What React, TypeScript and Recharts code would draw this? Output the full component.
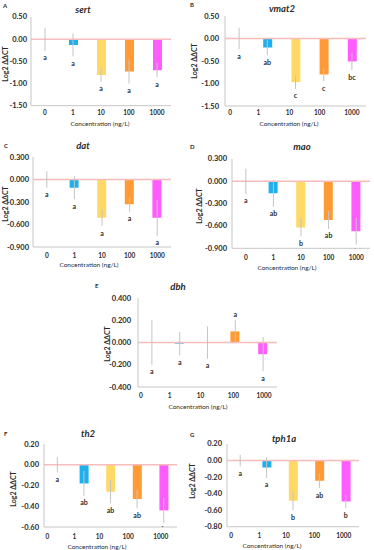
import React from "react";
import { ComposedChart, Bar, Cell, XAxis, YAxis, ReferenceLine, ErrorBar, Line } from "recharts";

const concentrations = ["0", "1", "10", "100", "1000"];
const barColors = ["#ffffff", "#1cb0ee", "#ffd966", "#ff9a35", "#ff5cff"];

// A - sert
const sertMean = [0, -0.13, -0.81, -0.73, -0.7];
const sertErr = [0.26, 0.26, 0.15, 0.27, 0.16];
const sertLetters = ["a", "a", "a", "a", "a"];
const sertTicks = [0.5, 0, -0.5, -1, -1.5];

// B - vmat2
const vmat2Mean = [0, -0.2, -0.97, -0.8, -0.51];
const vmat2Err = [0.24, 0.17, 0.15, 0.15, 0.19];
const vmat2Letters = ["a", "ab", "c", "c", "bc"];
const vmat2Ticks = [0.5, 0, -0.5, -1, -1.5];

// C - dat
const datMean = [0, -0.11, -0.51, -0.33, -0.51];
const datErr = [0.11, 0.155, 0.11, 0.1, 0.24];
const datLetters = ["a", "a", "a", "a", "a"];
const datTicks = [0.3, 0, -0.3, -0.6, -0.9];

// D - mao
const maoMean = [0, -0.16, -0.62, -0.52, -0.67];
const maoErr = [0.17, 0.18, 0.12, 0.12, 0.18];
const maoLetters = ["a", "ab", "b", "ab", "b"];
const maoTicks = [0.3, 0, -0.3, -0.6, -0.9];

// E - dbh
const dbhMean = [0, -0.01, 0, 0.1, -0.105];
const dbhErr = [0.2, 0.105, 0.145, 0.1, 0.153];
const dbhLetters = ["a", "a", "a", "a", "a"];
const dbhTicks = [0.4, 0.2, 0, -0.2, -0.4];

// F - th2
const th2Mean = [0, -0.18, -0.26, -0.33, -0.44];
const th2Err = [0.073, 0.12, 0.11, 0.09, 0.12];
const th2Letters = ["a", "ab", "ab", "ab", "b"];
const th2Ticks = [0.2, 0, -0.2, -0.4, -0.6];

// G - tph1a
const tph1aMean = [0, -0.085, -0.485, -0.245, -0.495];
const tph1aErr = [0.07, 0.125, 0.115, 0.09, 0.08];
const tph1aLetters = ["a", "a", "b", "ab", "b"];
const tph1aTicks = [0.2, 0, -0.2, -0.4, -0.6, -0.8];

const FONT = "Lato, 'Open Sans', sans-serif";
const AXIS_GREY = "#c6c6c6";
const ERR_GREY = "#c4c4c4";
const ZERO_PINK = "#f8bcbc";
const TEXT = "#2b2b2b";

const PAD_L = 40;
const PAD_T = 8;
const PAD_R = 6;
const X_H = 22;

type Panel = {
  tag: string;
  title: string;
  mean: number[];
  err: number[];
  letters: string[];
  ticks: number[];
  digits: number;
  plot: { left: number; right: number; top: number; bottom: number };
  tickShift: number[];
  xTickGap: number;
  yTickGap: number;
  tagPos: [number, number];
  titlePos: [number, number];
  yLabelPos: [number, number];
  xTitlePos: [number, number];
};

const panels: Panel[] = [
  {
    tag: "A", title: "sert", mean: sertMean, err: sertErr, letters: sertLetters, ticks: sertTicks, digits: 2,
    plot: { left: 31, right: 171, top: 17.3, bottom: 106 },
    tickShift: [0, 0, 0, 0, 0], xTickGap: 6.7, yTickGap: 4,
    tagPos: [3, 5], titlePos: [83, 9.5], yLabelPos: [5, 64], xTitlePos: [100, 123],
  },
  {
    tag: "B", title: "vmat2", mean: vmat2Mean, err: vmat2Err, letters: vmat2Letters, ticks: vmat2Ticks, digits: 2,
    plot: { left: 225, right: 366, top: 16, bottom: 106 },
    tickShift: [-9, -9, -6, -4, 0], xTickGap: 6.7, yTickGap: 6,
    tagPos: [190, 4], titlePos: [282, 8], yLabelPos: [194, 61], xTitlePos: [289, 123],
  },
  {
    tag: "C", title: "dat", mean: datMean, err: datErr, letters: datLetters, ticks: datTicks, digits: 3,
    plot: { left: 33, right: 171, top: 157.3, bottom: 247.3 },
    tickShift: [0, 0, 0, 0, 0], xTickGap: 8, yTickGap: 4,
    tagPos: [4, 145], titlePos: [83, 145.5], yLabelPos: [5, 204], xTitlePos: [89, 264],
  },
  {
    tag: "D", title: "mao", mean: maoMean, err: maoErr, letters: maoLetters, ticks: maoTicks, digits: 3,
    plot: { left: 232, right: 370, top: 159, bottom: 248.3 },
    tickShift: [0, 0, 0, 0, 0], xTickGap: 9, yTickGap: 5,
    tagPos: [190, 146], titlePos: [302, 146], yLabelPos: [199, 206], xTitlePos: [287, 267],
  },
  {
    tag: "E", title: "dbh", mean: dbhMean, err: dbhErr, letters: dbhLetters, ticks: dbhTicks, digits: 3,
    plot: { left: 137.5, right: 276.5, top: 298.3, bottom: 387.3 },
    tickShift: [-11, -10, -7, -2, 1], xTickGap: 8.5, yTickGap: 7,
    tagPos: [95, 285], titlePos: [178, 286.5], yLabelPos: [107, 344], xTitlePos: [198, 406],
  },
  {
    tag: "F", title: "th2", mean: th2Mean, err: th2Err, letters: th2Letters, ticks: th2Ticks, digits: 2,
    plot: { left: 44, right: 177, top: 444.3, bottom: 527.3 },
    tickShift: [-10, -9.6, -11, -9, -3], xTickGap: 9, yTickGap: 5,
    tagPos: [4, 433], titlePos: [88, 433.5], yLabelPos: [13, 489], xTitlePos: [97, 546],
  },
  {
    tag: "G", title: "tph1a", mean: tph1aMean, err: tph1aErr, letters: tph1aLetters, ticks: tph1aTicks, digits: 2,
    plot: { left: 227, right: 359, top: 444, bottom: 526.7 },
    tickShift: [-9, -7.3, -7, -5, -2], xTickGap: 9, yTickGap: 5,
    tagPos: [190, 434], titlePos: [284, 438], yLabelPos: [192, 481], xTitlePos: [272, 545],
  },
];

function GenePanel({ p }: { p: Panel }) {
  const rows = concentrations.map((c, i) => ({
    c,
    mean: p.mean[i],
    err: p.err[i],
    letter: p.letters[i],
    // letters sit under the error bar, or over it when the bar goes up
    anchor: p.mean[i] > 0 ? p.mean[i] + p.err[i] : p.mean[i] - p.err[i],
  }));
  const plotH = p.plot.bottom - p.plot.top;
  const w = p.plot.right - p.plot.left + PAD_L + PAD_R;
  const h = plotH + PAD_T + X_H;
  const axisY = PAD_T + plotH;
  const lo = p.ticks[p.ticks.length - 1];
  const hi = p.ticks[0];

  return (
    <div style={{ position: "absolute", left: p.plot.left - PAD_L, top: p.plot.top - PAD_T }}>
      <ComposedChart width={w} height={h} data={rows} margin={{ top: PAD_T, right: PAD_R, bottom: 0, left: 0 }}>
        <XAxis
          dataKey="c"
          height={X_H}
          interval={0}
          tickLine={false}
          axisLine={{ stroke: AXIS_GREY, strokeWidth: 1 }}
          tick={(t: any) => (
            <text
              x={t.x + p.tickShift[t.index]}
              y={axisY + p.xTickGap}
              textAnchor="middle"
              dominantBaseline="central"
              fontSize={6.5}
              fontWeight={700}
              fontFamily={FONT}
              fill={TEXT}
            >
              {t.payload.value}
            </text>
          )}
        />
        <YAxis
          width={PAD_L}
          type="number"
          domain={[lo, hi]}
          ticks={p.ticks}
          interval={0}
          allowDataOverflow
          tickLine={false}
          axisLine={{ stroke: AXIS_GREY, strokeWidth: 1 }}
          tick={(t: any) => (
            <text
              x={PAD_L - p.yTickGap}
              y={t.y}
              textAnchor="end"
              dominantBaseline="central"
              fontSize={7.5}
              fontWeight={700}
              fontFamily={FONT}
              fill={TEXT}
            >
              {Number(t.payload.value).toFixed(p.digits)}
            </text>
          )}
        />
        <ReferenceLine y={0} stroke={ZERO_PINK} strokeWidth={1.5} />
        <Bar dataKey="mean" barSize={9} isAnimationActive={false}>
          {rows.map((r, i) => (
            <Cell key={r.c} fill={barColors[i]} />
          ))}
        </Bar>
        <Line dataKey="mean" stroke="none" dot={false} activeDot={false} legendType="none" isAnimationActive={false}>
          <ErrorBar dataKey="err" width={0} stroke={ERR_GREY} strokeWidth={1} direction="y" />
        </Line>
        <Line
          dataKey="anchor"
          stroke="none"
          isAnimationActive={false}
          activeDot={false}
          legendType="none"
          dot={(d: any) => (
            <text
              key={`lt-${d.index}`}
              x={d.cx}
              y={d.cy + (d.payload.mean > 0 ? -6.5 : 6.5)}
              textAnchor="middle"
              dominantBaseline="central"
              fontSize={7}
              fontWeight={700}
              fontFamily={FONT}
              fill={TEXT}
            >
              {d.payload.letter}
            </text>
          )}
        />
      </ComposedChart>
    </div>
  );
}

export default function App() {
  return (
    <div style={{ position: "absolute", left: 0, top: 0, width: 374, height: 550, background: "#fff", overflow: "hidden" }}>
      {panels.map((p) => (
        <GenePanel key={p.tag} p={p} />
      ))}
      <svg width={374} height={550} style={{ position: "absolute", left: 0, top: 0, pointerEvents: "none" }}>
        {panels.map((p) => (
          <g key={p.tag} fontFamily={FONT} fill={TEXT}>
            <text x={p.tagPos[0]} y={p.tagPos[1]} fontSize={6} fontWeight={700} dominantBaseline="central">
              {p.tag}
            </text>
            <text
              x={p.titlePos[0]}
              y={p.titlePos[1]}
              fontSize={9.5}
              fontWeight={700}
              fontStyle="italic"
              textAnchor="middle"
              dominantBaseline="central"
            >
              {p.title}
            </text>
            <text
              x={p.yLabelPos[0]}
              y={p.yLabelPos[1]}
              fontSize={7}
              fontWeight={700}
              textAnchor="middle"
              dominantBaseline="central"
              transform={`rotate(-90 ${p.yLabelPos[0]} ${p.yLabelPos[1]})`}
            >
              Log2 ΔΔCT
            </text>
            <text
              x={p.xTitlePos[0]}
              y={p.xTitlePos[1]}
              fontSize={6.5}
              textAnchor="middle"
              dominantBaseline="central"
            >
              Concentration (ng/L)
            </text>
          </g>
        ))}
      </svg>
    </div>
  );
}
